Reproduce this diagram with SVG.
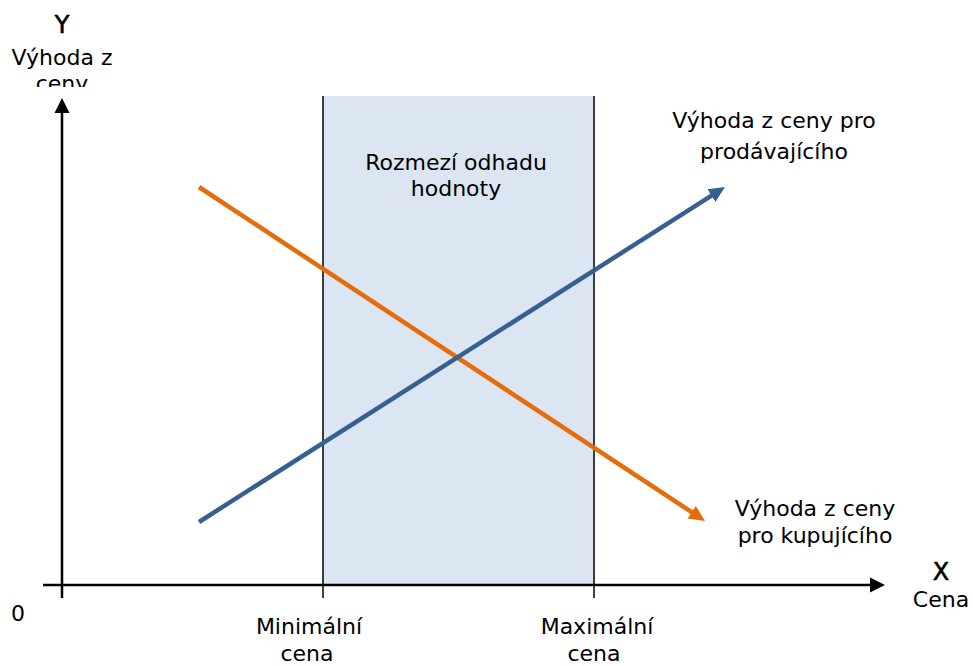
<svg xmlns="http://www.w3.org/2000/svg" width="973" height="666" viewBox="0 0 973 666">
  <style>
    text { font-family: "DejaVu Sans", "Liberation Sans", sans-serif; font-size: 22px; fill: #000; text-anchor: middle; }
    .axis-title { font-size: 24px; stroke: #000; stroke-width: 0.6; }
    .axis { stroke: #000; stroke-width: 2.5; fill: none; }
    .bound { stroke: #000; stroke-width: 1.5; fill: none; }
    .seller { stroke: #376092; stroke-width: 4.5; fill: none; }
    .buyer { stroke: #E46C0A; stroke-width: 4.5; fill: none; }
  </style>
  <defs>
    <marker id="head-black" markerUnits="userSpaceOnUse" markerWidth="16" markerHeight="16" refX="1" refY="8" orient="auto">
      <path d="M0,0.5 L15,8 L0,15.5 z" fill="#000"/>
    </marker>
    <marker id="head-blue" markerUnits="userSpaceOnUse" markerWidth="17" markerHeight="17" refX="1" refY="8.5" orient="auto">
      <path d="M0,1 L16,8.5 L0,16 z" fill="#376092"/>
    </marker>
    <marker id="head-orange" markerUnits="userSpaceOnUse" markerWidth="17" markerHeight="17" refX="1" refY="8.5" orient="auto">
      <path d="M0,1 L16,8.5 L0,16 z" fill="#E46C0A"/>
    </marker>
    <clipPath id="clip-ylabel"><rect x="0" y="0" width="140" height="87"/></clipPath>
    <clipPath id="clip-range"><rect x="323" y="96" width="271" height="104"/></clipPath>
  </defs>

  <!-- price range band -->
  <g id="range">
    <rect x="323" y="96" width="271" height="489" fill="#DCE6F2"/>
    <g clip-path="url(#clip-range)">
      <text x="456" y="170">Rozmezí odhadu</text>
      <text x="456" y="196">hodnoty</text>
    </g>
  </g>

  <!-- axes, bounds and value curves -->
  <g id="connectors">
    <line class="bound" x1="323" y1="96" x2="323" y2="598"/>
    <line class="bound" x1="594" y1="96" x2="594" y2="598"/>
    <line class="axis" x1="62" y1="598" x2="62" y2="112" marker-end="url(#head-black)"/>
    <line class="axis" x1="43" y1="585" x2="871" y2="585" marker-end="url(#head-black)"/>
    <line class="buyer" x1="199" y1="187" x2="692.5" y2="512.7" marker-end="url(#head-orange)"/>
    <line class="seller" x1="199" y1="522" x2="712.3" y2="195.1" marker-end="url(#head-blue)"/>
  </g>

  <g id="y-label" clip-path="url(#clip-ylabel)">
    <text class="axis-title" x="62" y="33">Y</text>
    <text x="62" y="65">Výhoda z</text>
    <text x="62" y="91">ceny</text>
  </g>

  <g id="x-label">
    <text class="axis-title" x="941" y="580">X</text>
    <text x="941" y="607">Cena</text>
  </g>

  <g id="origin">
    <text x="18" y="621">0</text>
  </g>

  <g id="seller-label">
    <text x="774" y="128">Výhoda z ceny pro</text>
    <text x="774" y="159">prodávajícího</text>
  </g>

  <g id="buyer-label">
    <text x="815" y="516">Výhoda z ceny</text>
    <text x="815" y="543">pro kupujícího</text>
  </g>

  <g id="min-price">
    <text x="309" y="634">Minimální</text>
    <text x="307" y="661">cena</text>
  </g>

  <g id="max-price">
    <text x="597" y="634">Maximální</text>
    <text x="594" y="661">cena</text>
  </g>
</svg>
